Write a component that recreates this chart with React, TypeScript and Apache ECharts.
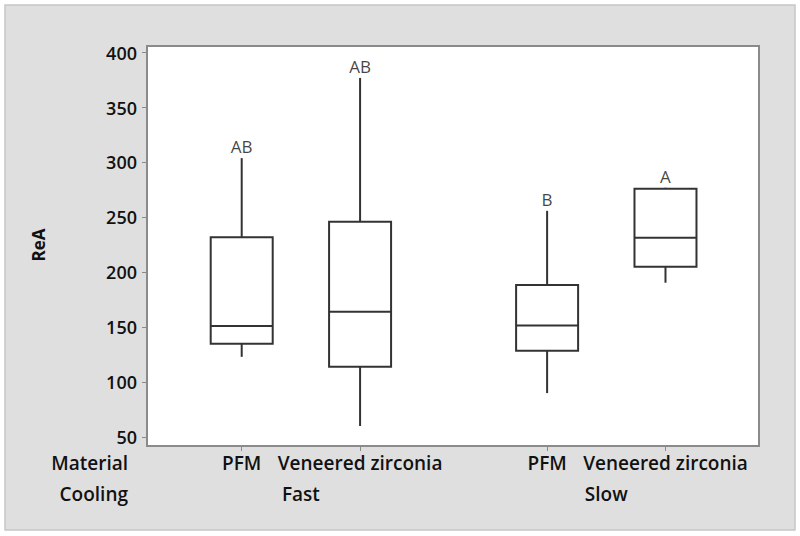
import React, { useEffect, useRef } from "react";
import * as echarts from "echarts";

// ---- data ----
const materials = ["PFM", "Veneered zirconia", "PFM", "Veneered zirconia"];
const coolings = ["Fast", "Slow"];
const xPositions = [1, 2, 3.58, 4.58];
const coolingPositions = [1.5, 4.08];
const minValues = [123, 60, 90, 190.5];
const q1Values = [135, 114, 128.5, 205];
const medianValues = [151, 164, 151.5, 231.5];
const q3Values = [232, 246, 188.5, 276];
const maxValues = [304, 377, 256, 277];
const groupLetters = ["AB", "AB", "B", "A"];
const yTicks = [50, 100, 150, 200, 250, 300, 350, 400];
const rowTitles = ["Material", "Cooling"];
const yTitle = "ReA";

const FONT = "'Open Sans', 'Noto Sans', sans-serif";
const TEXT = "#111111";
const LINE = "#333333";
const BOX_W = 62;

export default function App() {
  const ref = useRef<HTMLDivElement>(null);
  useEffect(() => {
    if (!ref.current) return;
    const chart = echarts.init(ref.current, undefined, { renderer: "svg" });
    const boxData = xPositions.map((x, i) => [
      x,
      minValues[i],
      q1Values[i],
      medianValues[i],
      q3Values[i],
      maxValues[i],
    ]);
    const findIdx = (arr: number[], v: number) =>
      arr.findIndex((a) => Math.abs(a - v) < 1e-6);

    const option: any = {
      animation: false,
      backgroundColor: "#ffffff",
      textStyle: { fontFamily: FONT },
      graphic: [
        {
          type: "rect",
          z: -100,
          shape: { x: 5, y: 5, width: 790, height: 525 },
          style: { fill: "#dfdfdf", stroke: "#c6c6c6", lineWidth: 1.5 },
        },
        {
          type: "text",
          x: 128,
          y: 463,
          style: {
            text: rowTitles[0],
            align: "right",
            verticalAlign: "middle",
            font: `600 19px ${FONT}`,
            fill: TEXT,
          },
        },
        {
          type: "text",
          x: 128,
          y: 494,
          style: {
            text: rowTitles[1],
            align: "right",
            verticalAlign: "middle",
            font: `600 19px ${FONT}`,
            fill: TEXT,
          },
        },
        {
          type: "text",
          x: 38,
          y: 245,
          rotation: Math.PI / 2,
          style: {
            text: yTitle,
            align: "center",
            verticalAlign: "middle",
            font: `bold 17px ${FONT}`,
            fill: TEXT,
          },
        },
      ],
      grid: {
        left: 147,
        top: 46,
        width: 612,
        height: 400,
        show: true,
        backgroundColor: "#ffffff",
        borderColor: "#8a8a8a",
        borderWidth: 2,
      },
      xAxis: [
        {
          type: "value",
          min: 0.2,
          max: 5.37,
          splitLine: { show: false },
          axisLine: { show: false },
          axisTick: {
            show: true,
            length: 5,
            customValues: xPositions,
            lineStyle: { color: "#8a8a8a", width: 1 },
          },
          axisLabel: {
            customValues: xPositions,
            margin: 7,
            fontSize: 19,
            fontWeight: 600,
            fontFamily: FONT,
            color: TEXT,
            formatter: (v: number) => materials[findIdx(xPositions, v)] ?? "",
          },
        },
        {
          type: "value",
          min: 0.2,
          max: 5.37,
          position: "bottom",
          offset: 31,
          splitLine: { show: false },
          axisLine: { show: false },
          axisTick: { show: false },
          axisLabel: {
            customValues: coolingPositions,
            margin: 7,
            fontSize: 19,
            fontWeight: 600,
            fontFamily: FONT,
            color: TEXT,
            formatter: (v: number) => coolings[findIdx(coolingPositions, v)] ?? "",
          },
        },
      ],
      yAxis: {
        type: "value",
        min: 41.8,
        max: 406.1,
        splitLine: { show: false },
        axisLine: { show: false },
        axisTick: {
          show: true,
          length: 5,
          customValues: yTicks,
          lineStyle: { color: "#8a8a8a", width: 1 },
        },
        axisLabel: {
          customValues: yTicks,
          margin: 10,
          fontSize: 18,
          fontWeight: 600,
          fontFamily: FONT,
          color: TEXT,
        },
      },
      series: [
        {
          type: "custom",
          xAxisIndex: 0,
          yAxisIndex: 0,
          data: boxData,
          encode: { x: 0, y: [1, 2, 3, 4, 5] },
          renderItem: (params: any, api: any) => {
            const x = api.value(0);
            const cx = api.coord([x, api.value(1)])[0];
            const yMin = api.coord([x, api.value(1)])[1];
            const yQ1 = api.coord([x, api.value(2)])[1];
            const yMed = api.coord([x, api.value(3)])[1];
            const yQ3 = api.coord([x, api.value(4)])[1];
            const yMax = api.coord([x, api.value(5)])[1];
            const h = BOX_W / 2;
            const st = { stroke: LINE, lineWidth: 2, fill: "none" };
            return {
              type: "group",
              children: [
                { type: "line", shape: { x1: cx, y1: yMax, x2: cx, y2: yQ3 }, style: st },
                { type: "line", shape: { x1: cx, y1: yQ1, x2: cx, y2: yMin }, style: st },
                {
                  type: "rect",
                  shape: { x: cx - h, y: yQ3, width: BOX_W, height: yQ1 - yQ3 },
                  style: { stroke: LINE, lineWidth: 2, fill: "#ffffff" },
                },
                { type: "line", shape: { x1: cx - h, y1: yMed, x2: cx + h, y2: yMed }, style: st },
              ],
            };
          },
        },
        {
          type: "scatter",
          xAxisIndex: 0,
          yAxisIndex: 0,
          symbolSize: 0,
          silent: true,
          data: xPositions.map((x, i) => [x, maxValues[i]]),
          label: {
            show: true,
            position: "top",
            distance: 3,
            fontSize: 17,
            fontFamily: FONT,
            color: TEXT,
            formatter: (p: any) => groupLetters[p.dataIndex],
          },
          z: 5,
        },
      ],
    };
    chart.setOption(option);
    return () => chart.dispose();
  }, []);
  return (
    <div
      ref={ref}
      style={{ position: "fixed", left: 0, top: 0, width: 800, height: 536 }}
    />
  );
}
